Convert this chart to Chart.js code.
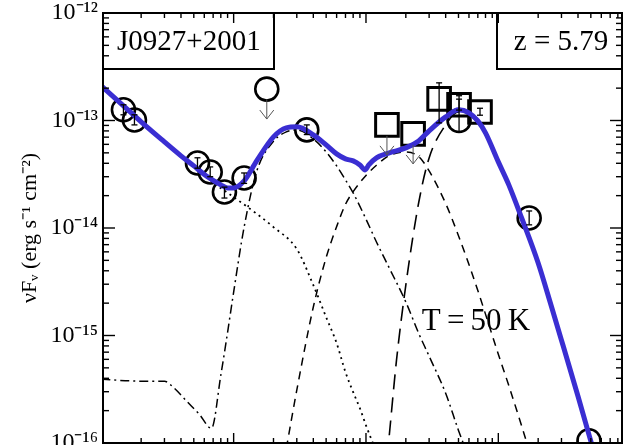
<!DOCTYPE html>
<html>
<head>
<meta charset="utf-8">
<script src="https://cdn.jsdelivr.net/npm/chart.js@4.4.0/dist/chart.umd.min.js"></script>
<style>
  html, body { margin: 0; padding: 0; background: #fff; }
  #wrap { width: 623px; height: 445px; }
</style>
</head>
<body>
<div id="wrap"><canvas id="sed" width="623" height="445"></canvas></div>
<script>
// rest-frame wavelength (micron) vs nuFnu (erg s^-1 cm^-2)

// photometry: circles
const detLam  = [0.147, 0.178, 0.533, 0.665, 0.852, 1.20, 3.57, 50.5, 171, 484];
const detFlux = [1.26e-13, 1.01e-13, 4.03e-14, 3.32e-14, 2.16e-14, 2.92e-14, 8.18e-14, 1.0e-13, 1.24e-14, 1.05e-16];
const detLo   = [1.13e-13, 0.91e-13, 3.6e-14, 3.0e-14, 1.9e-14, 2.6e-14, 7.4e-14, 7.8e-14, 1.07e-14, null];
const detHi   = [1.40e-13, 1.13e-13, 4.5e-14, 3.7e-14, 2.4e-14, 3.25e-14, 9.1e-14, 1.7e-13, 1.44e-14, null];

// upper limit circle
const limLam  = [1.78];
const limFlux = [1.96e-13];

// Herschel boxes
const boxLam   = [14.4, 22.7, 35.7, 50.5, 72.7];
const boxFlux  = [9.1e-14, 7.5e-14, 1.59e-13, 1.40e-13, 1.20e-13];
const boxUpper = [true, true, false, false, false];
const boxLo    = [null, null, 9.5e-14, 1.25e-13, 1.12e-13];
const boxHi    = [null, null, 2.24e-13, 1.58e-13, 1.30e-13];

// model components
const totalLam  = [0.1, 0.15, 0.2, 0.3, 0.4, 0.5, 0.6, 0.7, 0.8, 0.9, 1.0, 1.2, 1.5, 2, 2.5, 3, 4, 5, 6, 7, 8, 9, 9.85, 10.5, 12, 15, 20, 25, 30, 40, 50, 60, 70, 80, 100, 120, 150, 200, 250, 300, 400, 500, 600];
const totalFlux = [2.10e-13, 1.34e-13, 9.71e-14, 6.32e-14, 4.69e-14, 3.78e-14, 3.15e-14, 2.77e-14, 2.52e-14, 2.36e-14, 2.36e-14, 2.74e-14, 4.25e-14, 7.04e-14, 8.54e-14, 8.73e-14, 7.35e-14, 5.93e-14, 4.89e-14, 4.39e-14, 4.21e-14, 3.86e-14, 3.47e-14, 3.86e-14, 4.49e-14, 5.0e-14, 5.56e-14, 6.46e-14, 8.01e-14, 1.08e-13, 1.257e-13, 1.18e-13, 9.92e-14, 7.67e-14, 4.12e-14, 2.52e-14, 1.24e-14, 4.72e-15, 1.92e-15, 9.05e-16, 2.72e-16, 1.04e-16, 4.69e-17];

const diskLam  = [0.1, 0.2, 0.3, 0.5, 0.7, 1.0, 1.5, 2, 3, 4, 5, 6, 7, 8, 9, 10, 12];
const diskFlux = [2.10e-13, 9.71e-14, 6.32e-14, 3.78e-14, 2.65e-14, 1.94e-14, 1.35e-14, 1.02e-14, 6.37e-15, 2.94e-15, 1.48e-15, 8.49e-16, 4.56e-16, 2.97e-16, 2.10e-16, 1.46e-16, 8.19e-17];

const torusLam  = [0.1, 0.2, 0.3, 0.35, 0.45, 0.55, 0.68, 0.8, 0.9, 1.0, 1.2, 1.5, 2, 2.5, 3, 4, 5, 6, 7, 8, 10, 12, 15, 20, 25, 30, 40, 50, 60];
const torusFlux = [3.92e-16, 3.76e-16, 3.76e-16, 3.30e-16, 2.39e-16, 1.85e-16, 1.37e-16, 4.27e-16, 1.07e-15, 2.53e-15, 1.02e-14, 3.42e-14, 6.4e-14, 7.84e-14, 8.18e-14, 6.75e-14, 5.1e-14, 3.78e-14, 2.80e-14, 2.12e-14, 1.21e-14, 7.41e-15, 4.24e-15, 2.05e-15, 1.05e-15, 6.42e-16, 2.90e-16, 1.31e-16, 7.2e-17];

const warmLam  = [2.5, 3, 4, 5, 6, 7, 8, 10, 12, 15, 20, 25, 30, 40, 50, 60, 70, 80, 100, 120, 150, 200];
const warmFlux = [8.92e-17, 3.10e-16, 1.84e-15, 5.31e-15, 1.03e-14, 1.66e-14, 2.18e-14, 3.08e-14, 3.83e-14, 4.72e-14, 5.10e-14, 4.62e-14, 3.40e-14, 1.69e-14, 8.48e-15, 4.58e-15, 2.62e-15, 1.58e-15, 6.70e-16, 3.42e-16, 1.44e-16, 4.5e-17];

const coldLam  = [15, 17, 20, 25, 30, 40, 50, 60, 70, 80, 100, 120, 150, 200, 250, 300, 400, 500, 600];
const coldFlux = [1.18e-16, 5.86e-16, 2.94e-15, 1.71e-14, 4.49e-14, 9.11e-14, 1.20e-13, 1.13e-13, 9.51e-14, 7.35e-14, 4.12e-14, 2.46e-14, 1.21e-14, 4.62e-15, 1.88e-15, 8.86e-16, 2.66e-16, 1.02e-16, 4.59e-17];

// axes
const xMin = 0.103, xMax = 860;
const yTickVals = [1e-16, 1e-15, 1e-14, 1e-13, 1e-12];
const yTickText = ['10\u207B\u00B9\u2076', '10\u207B\u00B9\u2075', '10\u207B\u00B9\u2074', '10\u207B\u00B9\u00B3', '10\u207B\u00B9\u00B2'];
const yTitle = '\u03BDF\u1D65 (erg s\u207B\u00B9 cm\u207B\u00B2)';

const serif = '"Liberation Serif", "Times New Roman", serif';

const pts = (xs, ys) => xs.map((x, i) => ({ x: x, y: ys[i] }));

function lineSet(lam, flux, dash, width, color, order) {
    return {
        data: pts(lam, flux),
        showLine: true,
        borderColor: color,
        borderWidth: width,
        borderDash: dash,
        pointRadius: 0,
        cubicInterpolationMode: 'monotone',
        fill: false,
        order: order
    };
}

// frame, inward ticks, label boxes, error bars, limit arrows
const decorations = {
    id: 'decorations',
    afterDatasetsDraw(chart) {
        const ctx = chart.ctx;
        const a = chart.chartArea;
        const xs = chart.scales.x, ys = chart.scales.y;
        ctx.save();
        ctx.strokeStyle = '#000';

        function seg(x1, y1, x2, y2) {
            ctx.beginPath(); ctx.moveTo(x1, y1); ctx.lineTo(x2, y2); ctx.stroke();
        }

        // error bars
        ctx.lineWidth = 1.3;
        function errBar(lam, lo, hi) {
            const px = xs.getPixelForValue(lam);
            const p1 = ys.getPixelForValue(lo), p2 = ys.getPixelForValue(hi);
            seg(px, p1, px, p2);
            seg(px - 3, p1, px + 3, p1);
            seg(px - 3, p2, px + 3, p2);
        }
        detLam.forEach((l, i) => { if (detLo[i] !== null) errBar(l, detLo[i], detHi[i]); });
        boxLam.forEach((l, i) => { if (boxLo[i] !== null) errBar(l, boxLo[i], boxHi[i]); });

        // upper limit arrows
        ctx.strokeStyle = '#555';
        ctx.lineWidth = 1;
        function arrow(lam, flux, r) {
            const px = xs.getPixelForValue(lam);
            const py = ys.getPixelForValue(flux);
            const tip = ys.getPixelForValue(flux / 1.9);
            seg(px, py + r, px, tip);
            seg(px - 7, tip - 9, px, tip);
            seg(px + 7, tip - 9, px, tip);
        }
        limLam.forEach((l, i) => arrow(l, limFlux[i], 11));
        boxLam.forEach((l, i) => { if (boxUpper[i]) arrow(l, boxFlux[i], 11); });

        // frame
        ctx.strokeStyle = '#000';
        ctx.lineWidth = 2;
        ctx.strokeRect(a.left, a.top, a.right - a.left, a.bottom - a.top);

        // x ticks (top & bottom, inward)
        ctx.lineWidth = 1.4;
        for (let k = -1; k <= 3; k++) {
            for (let m = 1; m <= 9; m++) {
                const v = m * Math.pow(10, k);
                const px = xs.getPixelForValue(v);
                if (px <= a.left + 1 || px >= a.right - 1) continue;
                const len = m === 1 ? 10 : 5;
                seg(px, a.bottom, px, a.bottom - len);
                seg(px, a.top, px, a.top + len);
            }
        }
        // y ticks (left & right, inward)
        for (let k = -16; k <= -13; k++) {
            for (let m = 1; m <= 9; m++) {
                const v = m * Math.pow(10, k);
                const py = ys.getPixelForValue(v);
                const len = m === 1 ? 12 : 6;
                seg(a.left, py, a.left + len, py);
                seg(a.right, py, a.right - len, py);
            }
        }

        // label boxes
        ctx.lineWidth = 2;
        ctx.strokeRect(a.left, a.top, 171, 56);
        ctx.strokeRect(497, a.top, a.right - 497, 56);

        ctx.fillStyle = '#000';
        ctx.textBaseline = 'middle';
        ctx.textAlign = 'left';
        ctx.font = '29px ' + serif;
        ctx.fillText('J0927+2001', 117, 42);
        ctx.textAlign = 'center';
        ctx.fillText('z = 5.79', 561, 42);
        ctx.font = '31px ' + serif;
        ctx.fillText('T\u2009=\u200950\u2009K', 476, 322);
        ctx.restore();
    }
};

const ctx = document.getElementById('sed').getContext('2d');
new Chart(ctx, {
    type: 'scatter',
    data: {
        datasets: [
            lineSet(totalLam, totalFlux, [], 5, '#3a2ed2', 0),
            {
                data: pts(detLam, detFlux),
                pointStyle: 'circle', pointRadius: 11.5, borderWidth: 2.6,
                borderColor: '#000', backgroundColor: 'rgba(0,0,0,0)', order: 1
            },
            {
                data: pts(limLam, limFlux),
                pointStyle: 'circle', pointRadius: 11.5, borderWidth: 2.6,
                borderColor: '#000', backgroundColor: 'rgba(0,0,0,0)', order: 1
            },
            {
                data: pts(boxLam, boxFlux),
                pointStyle: 'rect', pointRadius: 16, borderWidth: 3,
                borderColor: '#000', backgroundColor: 'rgba(0,0,0,0)', order: 1
            },
            lineSet(diskLam, diskFlux, [2, 4], 1.8, '#000', 2),
            lineSet(torusLam, torusFlux, [9, 4, 2, 4], 1.5, '#000', 2),
            lineSet(warmLam, warmFlux, [8, 6], 1.5, '#000', 2),
            lineSet(coldLam, coldFlux, [15, 8], 1.6, '#000', 2)
        ]
    },
    options: {
        responsive: false,
        animation: false,
        devicePixelRatio: 1,
        layout: { autoPadding: false, padding: { left: 0, top: 13, right: 1, bottom: 2 } },
        plugins: { legend: { display: false }, tooltip: { enabled: false } },
        scales: {
            x: {
                type: 'logarithmic',
                min: xMin,
                max: xMax,
                display: false
            },
            y: {
                type: 'logarithmic',
                position: 'left',
                min: 1e-16,
                max: 1e-12,
                afterBuildTicks: (scale) => { scale.ticks = yTickVals.map(v => ({ value: v })); },
                afterFit: (scale) => {
                    scale.width = 103;
                    scale.paddingTop = 0;
                    scale.paddingBottom = 0;
                },
                grid: { display: false, drawTicks: false },
                border: { display: false },
                ticks: {
                    autoSkip: false,
                    padding: 5,
                    color: '#000',
                    font: { family: serif, size: 24 },
                    callback: (v, i) => yTickText[i]
                },
                title: {
                    display: true,
                    text: yTitle,
                    color: '#000',
                    font: { family: serif, size: 22 },
                    padding: { top: 17, bottom: 0 }
                }
            }
        }
    },
    plugins: [decorations]
});
</script>
</body>
</html>
